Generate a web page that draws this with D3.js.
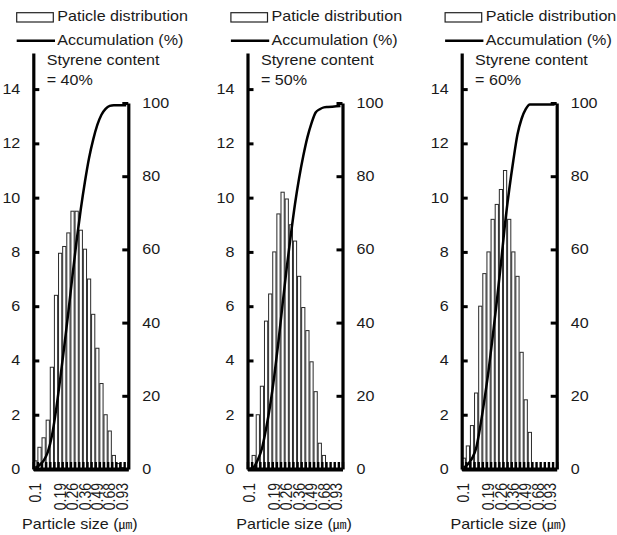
<!DOCTYPE html>
<html>
<head>
<meta charset="utf-8">
<script src="https://cdn.jsdelivr.net/npm/d3@7"></script>
<style>
  body { margin: 0; background: #fff; }
  svg text { font-family: "Liberation Sans", Arial, sans-serif; fill: #1a1a1a; }
</style>
</head>
<body>
<svg id="chart" width="617" height="535"></svg>
<script>
// Size classes (µm) along the category axis; only some classes carry a label.
const sizeClassLabels = ["0.1", "", "", "", "", "", "0.19", "", "", "0.26", "", "", "0.36", "", "",
                         "0.49", "", "", "0.68", "", "", "0.93", ""];

const styreneContent = ["40%", "50%", "60%"];

// Particle distribution (%) per size class
const distribution40 = [0.3, 0.8, 1.15, 1.8, 3.75, 6.4, 7.95, 8.2, 8.7, 9.5, 9.5, 8.8, 8.1, 7.0, 5.7,
                        4.45, 3.15, 2.0, 1.4, 0.5, 0.2, 0.05, 0];
const distribution50 = [0, 0.5, 2.0, 3.05, 5.45, 6.45, 8.0, 9.4, 10.2, 9.95, 9.0, 8.4, 7.1, 5.95, 5.1,
                        3.95, 2.85, 0.95, 0.5, 0, 0, 0, 0];
const distribution60 = [0.4, 0.85, 1.6, 2.8, 6.0, 7.2, 8.0, 9.2, 9.75, 10.3, 11.0, 9.2, 8.0, 7.1, 4.3,
                        2.55, 1.35, 0, 0, 0, 0, 0, 0];

// Accumulation (%) per size class
const accumulation40 = [0.3, 1.1, 2.3, 4.6, 9.0, 16.0, 24.5, 33.5, 43.0, 53.0, 62.5, 71.0, 78.5, 85.0, 90.0,
                        94.0, 96.8, 98.4, 99.2, 99.4, 99.4, 99.4, 99.4];
const accumulation50 = [0, 0.5, 2.5, 5.6, 11.0, 17.5, 25.5, 34.9, 45.1, 55.0, 64.0, 72.4, 79.5, 85.5, 90.6,
                        94.5, 97.4, 98.3, 98.8, 98.9, 99.0, 99.1, 99.2];
const accumulation60 = [0.4, 1.3, 2.9, 5.7, 11.7, 18.9, 26.9, 36.1, 45.8, 56.1, 67.1, 76.3, 84.3, 91.4, 95.7,
                        98.3, 99.6, 99.6, 99.6, 99.6, 99.6, 99.6, 99.6];

const leftTicks = [0, 2, 4, 6, 8, 10, 12, 14];
const rightTicks = [0, 20, 40, 60, 80, 100];

const distributions = [distribution40, distribution50, distribution60];
const accumulations = [accumulation40, accumulation50, accumulation60];

// Layout
const panelStep = 214.2;
const plotLeft = 33.3, plotWidth = 95;
const baseY = 469;
const stretch = 1.15;   // wide lettering
const fontSize = 14;

const svg = d3.select("#chart");

function stretchedText(g, x, y, str, anchor) {
  return g.append("text")
    .attr("transform", `translate(${x},${y}) scale(${stretch},1)`)
    .attr("text-anchor", anchor || "start")
    .style("font-size", fontSize + "px")
    .text(str);
}

const yLeft = d3.scaleLinear().domain([0, 15.33]).range([baseY, 53]);
const yRight = d3.scaleLinear().domain([0, 100]).range([baseY, 103]);

distributions.forEach((dist, p) => {
  const off = p * panelStep;
  const g = svg.append("g").attr("transform", `translate(${off},0)`);
  const x0 = plotLeft, x1 = plotLeft + plotWidth;

  const x = d3.scaleBand()
    .domain(d3.range(sizeClassLabels.length))
    .range([x0, x1])
    .paddingInner(0.22)
    .paddingOuter(0.11);
  const bw = x.bandwidth();

  // Bars
  g.append("g").selectAll("rect")
    .data(dist.map((v, i) => ({ v, i })).filter(d => d.v > 0))
    .join("rect")
    .attr("x", d => x(d.i))
    .attr("y", d => yLeft(d.v))
    .attr("width", bw)
    .attr("height", d => yLeft(0) - yLeft(d.v))
    .attr("fill", "#fff")
    .attr("stroke", "#2a2a2a")
    .attr("stroke-width", 1);

  // Dense category ticks along the bottom axis
  const xEdges = d3.scaleLinear().domain([0, sizeClassLabels.length]).range([x0, x1]);
  const edgeAxis = g.append("g")
    .attr("transform", `translate(0,${baseY})`)
    .call(d3.axisBottom(xEdges).tickValues(d3.range(sizeClassLabels.length + 1))
      .tickSize(-7).tickSizeOuter(0).tickFormat(""));
  edgeAxis.select(".domain").attr("stroke", "#000").attr("stroke-width", 4);
  edgeAxis.selectAll(".tick line").attr("stroke", "#000").attr("stroke-width", 2.4);

  // Size labels (rotated)
  const labAxis = g.append("g")
    .attr("transform", `translate(0,${baseY})`)
    .call(d3.axisBottom(x)
      .tickValues(sizeClassLabels.map((l, i) => l ? i : -1).filter(i => i >= 0))
      .tickFormat(i => sizeClassLabels[i])
      .tickSize(0));
  labAxis.select(".domain").remove();
  labAxis.selectAll("text")
    .attr("transform", `scale(${stretch},1) rotate(-90)`)
    .attr("text-anchor", "end")
    .attr("x", -14)
    .attr("y", 0)
    .attr("dy", "0.35em")
    .style("font-size", fontSize + "px")
    .style("font-family", "'Liberation Sans', Arial, sans-serif");

  // Accumulation curve
  const line = d3.line()
    .x((v, i) => x(i) + bw / 2)
    .y(v => yRight(v))
    .curve(d3.curveMonotoneX);
  g.append("path")
    .datum(accumulations[p])
    .attr("d", line)
    .attr("fill", "none")
    .attr("stroke", "#000")
    .attr("stroke-width", 2.5)
    .attr("stroke-linejoin", "round");

  // Left axis: particle distribution
  const la = g.append("g")
    .attr("transform", `translate(${x0},0)`)
    .call(d3.axisLeft(yLeft).tickValues(leftTicks).tickSize(-6).tickSizeOuter(0).tickPadding(13));
  la.select(".domain").attr("stroke", "#000").attr("stroke-width", 3.2);
  la.selectAll(".tick line").attr("stroke", "#000").attr("stroke-width", 3);
  la.selectAll("text")
    .attr("transform", `scale(${stretch},1)`)
    .attr("x", -13 / stretch)
    .style("font-size", fontSize + "px")
    .style("font-family", "'Liberation Sans', Arial, sans-serif");

  // Right axis: accumulation
  const ra = g.append("g")
    .attr("transform", `translate(${x1},0)`)
    .call(d3.axisRight(yRight).tickValues(rightTicks).tickSize(-6).tickSizeOuter(0).tickPadding(14));
  ra.select(".domain").attr("stroke", "#000").attr("stroke-width", 3.2);
  ra.selectAll(".tick line").attr("stroke", "#000").attr("stroke-width", 3);
  ra.selectAll("text")
    .attr("transform", `scale(${stretch},1)`)
    .attr("x", 14 / stretch)
    .style("font-size", fontSize + "px")
    .style("font-family", "'Liberation Sans', Arial, sans-serif");

  // Legend
  g.append("rect")
    .attr("x", 16.7).attr("y", 12.7).attr("width", 36.6).attr("height", 9.3)
    .attr("fill", "#fff").attr("stroke", "#222").attr("stroke-width", 1.2);
  stretchedText(g, 57.3, 20.5, "Paticle distribution");
  g.append("line")
    .attr("x1", 16.7).attr("x2", 55).attr("y1", 40.7).attr("y2", 40.7)
    .attr("stroke", "#000").attr("stroke-width", 2.6);
  stretchedText(g, 57.3, 44.5, "Accumulation (%)");

  // Series annotation
  stretchedText(g, 46.7, 65, "Styrene content");
  stretchedText(g, 46.7, 85, "= " + styreneContent[p]);

  // Axis title
  const t = stretchedText(g, 22, 529, "Particle size (");
  t.append("tspan")
    .style("font-family", "'Noto Sans CJK JP', sans-serif")
    .style("font-size", "12px")
    .text("\u339B");
  t.append("tspan").text(")");
});
</script>
</body>
</html>
